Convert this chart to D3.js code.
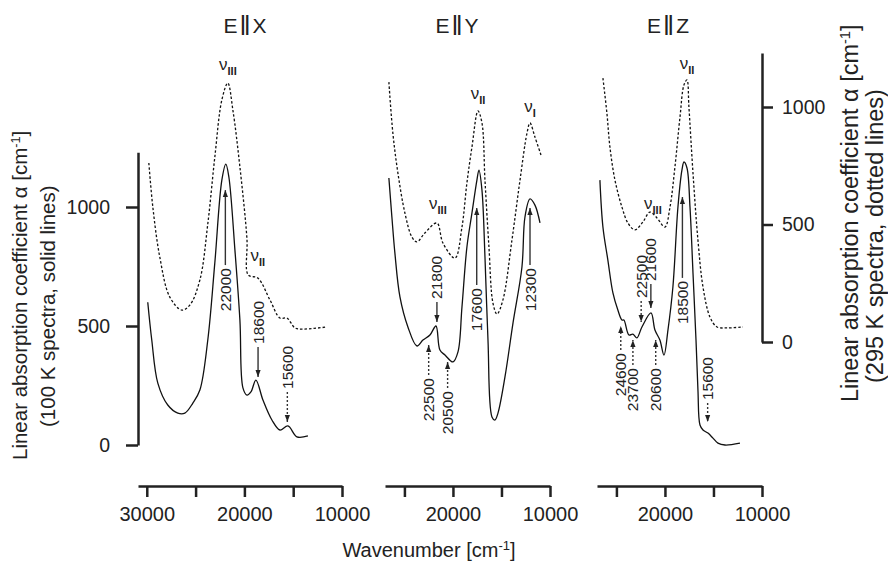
<!DOCTYPE html>
<html lang="en">
<head>
<meta charset="UTF-8" />
<title>Polarized absorption spectra</title>
<style>
  html, body { margin: 0; padding: 0; background: #fff; }
  svg { display: block; font-family: "Liberation Sans", Arial, sans-serif; }
  .axis path, .axis line { stroke: #222; stroke-width: 2.5px; }
  .axis text { fill: #222; font-family: "Liberation Sans", Arial, sans-serif; }
  .solid { fill: none; stroke: #111; stroke-width: 1.3px; }
  .dotted { fill: none; stroke: #111; stroke-width: 1.3px; stroke-dasharray: 2.5 2; }
  .ann-line { stroke: #333; stroke-width: 1.4px; }
  .ann-text { font-size: 15.5px; fill: #222; }
  .band { font-size: 17px; fill: #222; }
  .title { font-size: 21px; fill: #222; }
  .label { font-size: 20px; fill: #222; }
</style>
</head>
<body>
<svg width="888" height="563"></svg>
<script src="https://d3js.org/d3.v7.min.js"></script>
<script>
// ---- spectra, E || X ----
const wnX100 = [29900, 29490, 28870, 27850, 26820, 26100, 25280, 24560, 23750, 23030, 22310, 21900, 21590, 20970, 20460, 20150, 19740, 19330, 18820, 18100, 17180, 16360, 15540, 14620, 13490];
const aX100  = [600, 441, 260, 168, 134, 134, 176, 231, 441, 765, 1113, 1180, 1126, 819, 525, 240, 210, 223, 273, 189, 105, 63, 80, 34, 38];
const wnX295 = [29790, 29380, 28670, 27640, 26410, 25590, 24560, 23740, 23030, 22310, 21700, 21180, 20460, 19740, 19600, 18620, 17380, 16360, 15640, 14820, 14000, 11540];
const aX295  = [762, 574, 362, 191, 136, 157, 264, 506, 787, 1030, 1102, 987, 745, 440, 285, 272, 179, 102, 102, 60, 55, 64];

// ---- spectra, E || Y ----
const wnY100 = [26600, 26290, 25980, 25460, 24640, 23710, 23090, 22370, 21750, 21340, 20820, 20000, 19480, 19070, 18560, 18040, 17530, 17320, 17010, 16700, 16390, 15980, 15670, 15360, 14640, 13810, 12890, 12580, 12060, 11550, 11030];
const aY100  = [1122, 958, 806, 622, 496, 416, 441, 462, 500, 399, 378, 349, 391, 580, 832, 975, 1113, 1155, 1071, 790, 441, 118, 105, 134, 286, 513, 748, 958, 1034, 1008, 933];
const wnY295 = [26600, 26190, 25670, 24950, 24230, 23710, 22890, 21650, 21030, 19790, 19070, 18560, 18040, 17420, 17010, 16700, 16290, 15880, 15460, 14850, 13920, 13090, 12370, 12060, 11550, 10930];
const aY295  = [1106, 889, 719, 549, 447, 426, 464, 506, 421, 357, 489, 677, 830, 983, 932, 689, 404, 166, 119, 179, 434, 689, 889, 932, 872, 796];

// ---- spectra, E || Z ----
const wnZ100 = [26700, 26390, 25880, 25360, 24850, 24430, 24230, 23710, 23300, 22890, 22370, 21440, 21030, 20520, 20100, 19690, 19180, 18660, 18250, 18040, 17730, 17420, 17110, 16800, 16600, 16390, 16080, 15570, 15050, 14540, 13810, 12270];
const aZ100  = [1113, 916, 777, 639, 567, 525, 525, 462, 466, 450, 496, 555, 483, 441, 378, 483, 664, 1000, 1155, 1189, 1164, 1000, 723, 441, 231, 84, 63, 50, 29, 8, 0, 8];
const wnZ295 = [26390, 25980, 25670, 25150, 24430, 23810, 23090, 22270, 21550, 20820, 20000, 19480, 18970, 18450, 18040, 17730, 17530, 17110, 16600, 16080, 15360, 14640, 13610, 11960];
const aZ295  = [1123, 974, 830, 689, 574, 506, 477, 511, 553, 528, 489, 574, 745, 957, 1094, 1115, 1000, 719, 434, 234, 106, 64, 60, 64];

// ---- marked maxima / shoulders: arrow at wavenumber `at`, from -> to (alpha, 100 K scale) ----
const annX = [
  { at: 21950, text: "22000", from: 756, to: 1071, kind: "solid" },
  { at: 18600, text: "18600", from: 412, to: 286, kind: "solid" },
  { at: 15600, text: "15600", from: 223, to: 97, kind: "dotted" }
];
const annY = [
  { at: 21650, text: "21800", from: 601, to: 517, kind: "solid" },
  { at: 22500, text: "22500", from: 294, to: 420, kind: "dotted" },
  { at: 20550, text: "20500", from: 239, to: 349, kind: "dotted" },
  { at: 17550, text: "17600", from: 672, to: 996, kind: "solid" },
  { at: 12060, text: "12300", from: 756, to: 996, kind: "solid" }
];
const annZ = [
  { at: 24550, text: "24600", from: 399, to: 500, kind: "dotted" },
  { at: 23300, text: "23700", from: 336, to: 441, kind: "dotted" },
  { at: 20950, text: "20600", from: 336, to: 441, kind: "dotted" },
  { at: 22450, text: "22500", from: 605, to: 517, kind: "dotted" },
  { at: 21450, text: "21600", from: 676, to: 576, kind: "solid" },
  { at: 18200, text: "18500", from: 702, to: 1042, kind: "solid" },
  { at: 15600, text: "15600", from: 176, to: 97, kind: "dotted" }
];

// band names (placed on the 295 K scale)
const bandsX = [{ wn: 21690, a: 1174, sub: "III" }, { wn: 18620, a: 362, sub: "II" }];
const bandsY = [{ wn: 21550, a: 583, sub: "III" }, { wn: 17420, a: 1051, sub: "II" }, { wn: 12060, a: 996, sub: "I" }];
const bandsZ = [{ wn: 21240, a: 583, sub: "III" }, { wn: 17730, a: 1179, sub: "II" }];

const xTicksX = [30000, 25000, 20000, 15000, 10000];
const xTicksYZ = [25000, 20000, 15000, 10000];
const xLabelled = [30000, 20000, 10000];
const yTicks = [0, 500, 1000];

const svg = d3.select("svg");

// shared vertical scales
const y100 = d3.scaleLinear().domain([0, 1000]).range([445, 207]);
const y295 = d3.scaleLinear().domain([0, 1000]).range([342, 107]);
const yTop = 1230;

const panels = [
  { key: "X", from: 30900, range: [138, 342], ticks: xTicksX, s: [wnX100, aX100], d: [wnX295, aX295], ann: annX, bands: bandsX, titleX: 245 },
  { key: "Y", from: 27000, range: [385, 550], ticks: xTicksYZ, s: [wnY100, aY100], d: [wnY295, aY295], ann: annY, bands: bandsY, titleX: 457 },
  { key: "Z", from: 27000, range: [597, 762], ticks: xTicksYZ, s: [wnZ100, aZ100], d: [wnZ295, aZ295], ann: annZ, bands: bandsZ, titleX: 668 }
];

// arrowhead
svg.append("defs").append("marker")
    .attr("id", "arrow")
    .attr("viewBox", "0 -3 7 6")
    .attr("refX", 7)
    .attr("refY", 0)
    .attr("markerUnits", "userSpaceOnUse")
    .attr("markerWidth", 7)
    .attr("markerHeight", 6)
    .attr("orient", "auto")
  .append("path")
    .attr("d", "M0,-2.6L7,0L0,2.6Z")
    .attr("fill", "#222");

panels.forEach(p => {
  const x = d3.scaleLinear().domain([p.from, 10000]).range(p.range);

  // bottom axis
  svg.append("g")
      .attr("class", "axis")
      .attr("transform", "translate(0,486)")
      .call(d3.axisBottom(x)
        .tickValues(p.ticks)
        .tickSize(11)
        .tickSizeOuter(0)
        .tickPadding(10)
        .tickFormat(d => xLabelled.includes(d) ? d3.format("d")(d) : ""))
    .selectAll("text").style("font-size", "20px");

  // spectra
  const line100 = d3.line().x(i => x(p.s[0][i])).y(i => y100(p.s[1][i])).curve(d3.curveCatmullRom.alpha(0.5));
  const line295 = d3.line().x(i => x(p.d[0][i])).y(i => y295(p.d[1][i])).curve(d3.curveCatmullRom.alpha(0.5));
  svg.append("path").attr("class", "dotted").attr("d", line295(d3.range(p.d[0].length)));
  svg.append("path").attr("class", "solid").attr("d", line100(d3.range(p.s[0].length)));

  // arrows + rotated labels
  p.ann.forEach(a => {
    const ax0 = x(a.at), yFrom = y100(a.from), yTo = y100(a.to);
    svg.append("line")
      .attr("class", "ann-line")
      .attr("x1", ax0).attr("x2", ax0)
      .attr("y1", yFrom).attr("y2", yTo)
      .attr("stroke-dasharray", a.kind === "dotted" ? "2 2" : null)
      .attr("marker-end", "url(#arrow)");
    const up = a.to > a.from;          // arrow points up -> label below
    const ly = up ? yFrom + 3 : yFrom - 3;
    svg.append("text")
      .attr("class", "ann-text")
      .attr("transform", `translate(${ax0},${ly}) rotate(-90)`)
      .attr("text-anchor", up ? "end" : "start")
      .attr("dominant-baseline", "central")
      .text(a.text);
  });

  // band names nu_I, nu_II, nu_III
  p.bands.forEach(b => {
    const t = svg.append("text")
      .attr("class", "band")
      .attr("x", x(b.wn))
      .attr("y", y295(b.a) + 4)
      .attr("text-anchor", "middle");
    t.append("tspan").text("\u03bd");
    t.append("tspan").attr("dy", 5).style("font-size", "11px").style("font-weight", "bold").text(b.sub);
  });

  // panel title E || axis
  const tt = svg.append("text")
    .attr("class", "title")
    .attr("x", p.titleX)
    .attr("y", 33)
    .attr("text-anchor", "middle");
  tt.append("tspan").text("E");
  tt.append("tspan").attr("dx", 2).style("font-size", "27px").attr("dy", 2).text("\u2016");
  tt.append("tspan").attr("dx", 2).attr("dy", -2).text(p.key);
});

// left (100 K) axis
const yLeft = d3.scaleLinear().domain([0, yTop]).range([y100(0), y100(yTop)]);
svg.append("g")
    .attr("class", "axis")
    .attr("transform", "translate(138,0)")
    .call(d3.axisLeft(yLeft).tickValues(yTicks).tickFormat(d3.format("d")).tickSize(12).tickSizeOuter(0).tickPadding(16))
  .selectAll("text").style("font-size", "19.5px");

// right (295 K) axis
const yRight = d3.scaleLinear().domain([0, yTop]).range([y295(0), y295(yTop)]);
svg.append("g")
    .attr("class", "axis")
    .attr("transform", "translate(762,0)")
    .call(d3.axisRight(yRight).tickValues(yTicks).tickFormat(d3.format("d")).tickSize(11).tickSizeOuter(0).tickPadding(9))
  .selectAll("text").style("font-size", "19.5px");

// axis titles (rotated, text starts at the bottom)
function yTitle(bx, by, size, gap, lines) {
  lines.forEach((ln, i) => {
    const t = svg.append("text")
      .attr("class", "label")
      .style("font-size", size + "px")
      .attr("transform", `translate(${bx + i * gap},${by[i]}) rotate(-90)`)
      .attr("text-anchor", "start");
    if (Array.isArray(ln)) {
      t.append("tspan").text(ln[0]);
      t.append("tspan").attr("dy", -0.35 * size).style("font-size", (size * 0.62) + "px").text(ln[1]);
      t.append("tspan").attr("dy", 0.35 * size).text(ln[2]);
    } else {
      t.text(ln);
    }
  });
}
yTitle(27, [460, 427], 20.5, 28, [["Linear absorption coefficient \u03b1 [cm", "-1", "]"], "(100 K spectra, solid lines)"]);
yTitle(858, [402, 383], 23.5, 25, [["Linear absorption coefficient \u03b1 [cm", "-1", "]"], "(295 K spectra, dotted lines)"]);

const xl = svg.append("text")
  .attr("class", "label")
  .attr("x", 429)
  .attr("y", 557)
  .attr("text-anchor", "middle");
xl.append("tspan").text("Wavenumber [cm");
xl.append("tspan").attr("dy", -7).style("font-size", "13px").text("-1");
xl.append("tspan").attr("dy", 7).text("]");
</script>
</body>
</html>
